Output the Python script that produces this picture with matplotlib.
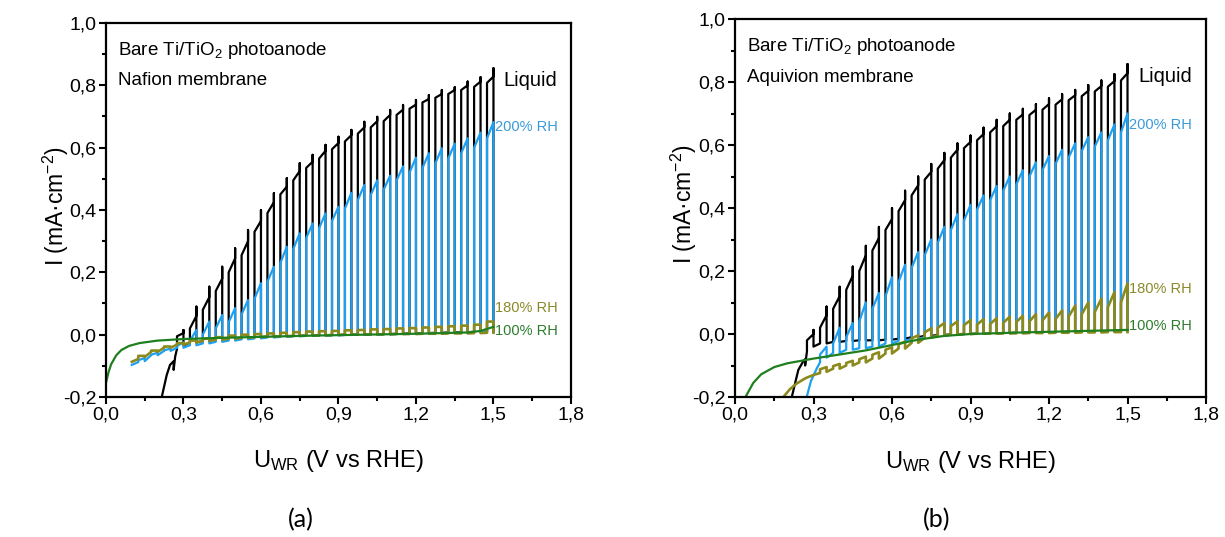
import matplotlib
matplotlib.use("Agg")
import matplotlib.pyplot as plt
from matplotlib.ticker import MultipleLocator, FuncFormatter

plt.rcParams["font.family"] = ["Liberation Sans", "DejaVu Sans"]
plt.rcParams["mathtext.fontset"] = "custom"
plt.rcParams["mathtext.rm"] = "Liberation Sans"
plt.rcParams["mathtext.it"] = "Liberation Sans:italic"

# potential at the end of each light pulse (V vs RHE)
chop_u = [0.15, 0.20, 0.25, 0.30, 0.35, 0.40, 0.45, 0.50, 0.55, 0.60,
          0.65, 0.70, 0.75, 0.80, 0.85, 0.90, 0.95, 1.00, 1.05, 1.10,
          1.15, 1.20, 1.25, 1.30, 1.35, 1.40, 1.45, 1.50]
pulse = 0.025

# ---- (a) Nafion membrane ----
liq_a_lead_u = [0.216, 0.235, 0.248, 0.262, 0.262, 0.268, 0.275]
liq_a_lead_i = [-0.200, -0.130, -0.097, -0.085, -0.113, -0.070, -0.045]
liq_a_dark = [-0.035, -0.025, -0.020, -0.015, -0.012, -0.010, -0.008, -0.006, -0.005,
              -0.004, -0.003, -0.002, -0.001, 0.000, 0.000, 0.001, 0.002, 0.003,
              0.004, 0.005, 0.006, 0.007, 0.008, 0.009, 0.010]
liq_a_on = [-0.005, 0.020, 0.080, 0.140, 0.200, 0.255, 0.330, 0.390, 0.450, 0.495,
            0.535, 0.565, 0.595, 0.620, 0.645, 0.665, 0.685, 0.705, 0.725, 0.745,
            0.760, 0.772, 0.785, 0.795, 0.808]
liq_a_off = [0.005, 0.060, 0.120, 0.180, 0.245, 0.300, 0.365, 0.425, 0.475, 0.525,
             0.555, 0.590, 0.615, 0.640, 0.665, 0.685, 0.705, 0.722, 0.738, 0.756,
             0.772, 0.785, 0.800, 0.812, 0.828]
liq_a_peak = [0.015, 0.090, 0.154, 0.218, 0.277, 0.336, 0.400, 0.454, 0.502, 0.550,
              0.577, 0.609, 0.635, 0.657, 0.683, 0.699, 0.721, 0.737, 0.753, 0.769,
              0.785, 0.794, 0.812, 0.826, 0.855]

rh200_a_lead_u = [0.100, 0.125]
rh200_a_lead_i = [-0.097, -0.088]
rh200_a_dark = [-0.085, -0.066, -0.052, -0.042, -0.034, -0.028, -0.023, -0.019, -0.015,
                -0.012, -0.009, -0.007, -0.005, -0.004, -0.003, -0.002, -0.001, 0.000,
                0.000, 0.001, 0.002, 0.003, 0.004, 0.005, 0.006, 0.007, 0.008, 0.010]
rh200_a_on = [-0.082, -0.064, -0.050, -0.036, -0.020, 0.000, 0.020, 0.040, 0.065,
              0.115, 0.170, 0.230, 0.275, 0.310, 0.342, 0.365, 0.405, 0.432, 0.448,
              0.465, 0.495, 0.520, 0.535, 0.550, 0.565, 0.582, 0.600, 0.630]
rh200_a_peak = [-0.075, -0.058, -0.045, -0.025, 0.015, 0.042, 0.063, 0.085, 0.111,
                0.165, 0.218, 0.282, 0.325, 0.357, 0.389, 0.410, 0.455, 0.480, 0.495,
                0.510, 0.540, 0.568, 0.582, 0.598, 0.613, 0.630, 0.648, 0.682]

rh180_a_lead_u = [0.100, 0.125]
rh180_a_lead_i = [-0.087, -0.078]
rh180_a_dark = [-0.072, -0.055, -0.042, -0.032, -0.025, -0.020, -0.016, -0.013, -0.010,
                -0.008, -0.006, -0.005, -0.004, -0.003, -0.002, -0.001, 0.000, 0.000,
                0.001, 0.001, 0.002, 0.002, 0.003, 0.003, 0.004, 0.004, 0.005, 0.006]
rh180_a_peak = [-0.068, -0.051, -0.038, -0.027, -0.019, -0.013, -0.008, -0.003, 0.000,
                0.002, 0.004, 0.006, 0.008, 0.010, 0.011, 0.012, 0.014, 0.015, 0.017,
                0.018, 0.020, 0.021, 0.023, 0.025, 0.027, 0.029, 0.032, 0.042]

rh100_a_u = [0.00, 0.01, 0.02, 0.04, 0.06, 0.09, 0.13, 0.20, 0.30, 0.45, 0.60,
             0.80, 1.00, 1.20, 1.40, 1.45, 1.50]
rh100_a_i = [-0.155, -0.120, -0.095, -0.066, -0.049, -0.036, -0.027, -0.019, -0.014,
             -0.010, -0.007, -0.003, 0.000, 0.003, 0.007, 0.012, 0.025]

# ---- (b) Aquivion membrane ----
liq_b_lead_u = [0.217, 0.242, 0.262, 0.268, 0.268, 0.275]
liq_b_lead_i = [-0.200, -0.114, -0.085, -0.080, -0.100, -0.055]
liq_b_dark = [-0.040, -0.030, -0.025, -0.022, -0.020, -0.020, -0.018, -0.015, -0.010,
              -0.006, -0.003, -0.001, 0.000, 0.001, 0.002, 0.003, 0.004, 0.005, 0.005,
              0.006, 0.007, 0.008, 0.008, 0.009, 0.010]
liq_b_on = [-0.020, 0.020, 0.080, 0.140, 0.200, 0.265, 0.330, 0.390, 0.440, 0.490,
            0.525, 0.560, 0.590, 0.615, 0.640, 0.660, 0.680, 0.695, 0.712, 0.728,
            0.742, 0.755, 0.770, 0.785, 0.805]
liq_b_off = [0.000, 0.060, 0.120, 0.185, 0.250, 0.305, 0.365, 0.425, 0.472, 0.515,
             0.552, 0.585, 0.610, 0.635, 0.660, 0.680, 0.697, 0.712, 0.730, 0.745,
             0.758, 0.772, 0.787, 0.803, 0.828]
liq_b_peak = [0.013, 0.087, 0.150, 0.214, 0.280, 0.340, 0.400, 0.455, 0.500, 0.540,
              0.575, 0.605, 0.630, 0.655, 0.680, 0.700, 0.715, 0.730, 0.748, 0.762,
              0.775, 0.790, 0.805, 0.825, 0.857]

rh200_b_lead_u = [0.274, 0.290, 0.312, 0.325]
rh200_b_lead_i = [-0.200, -0.150, -0.110, -0.090]
rh200_b_dark = [-0.075, -0.060, -0.050, -0.045, -0.040, -0.030, -0.022, -0.015, -0.010,
                -0.006, -0.003, 0.000, 0.001, 0.002, 0.003, 0.004, 0.005, 0.005, 0.006,
                0.007, 0.008, 0.008, 0.009, 0.010]
rh200_b_on = [-0.065, -0.030, -0.010, 0.040, 0.080, 0.120, 0.165, 0.210, 0.250, 0.290,
              0.330, 0.360, 0.395, 0.425, 0.455, 0.475, 0.500, 0.520, 0.540, 0.560,
              0.580, 0.595, 0.615, 0.640]
rh200_b_peak = [-0.040, 0.020, 0.035, 0.100, 0.130, 0.180, 0.220, 0.260, 0.300, 0.340,
                0.380, 0.410, 0.440, 0.470, 0.500, 0.520, 0.545, 0.565, 0.585, 0.605,
                0.625, 0.640, 0.665, 0.700]

rh180_b_lead_u = [0.185, 0.210, 0.236, 0.270, 0.300, 0.325]
rh180_b_lead_i = [-0.200, -0.175, -0.157, -0.140, -0.130, -0.124]
rh180_b_dark = [-0.120, -0.110, -0.100, -0.090, -0.078, -0.062, -0.046, -0.028, -0.012,
                -0.005, -0.001, 0.000, 0.001, 0.001, 0.002, 0.002, 0.003, 0.003, 0.004,
                0.004, 0.005, 0.005, 0.006, 0.006]
rh180_b_on = [-0.112, -0.102, -0.092, -0.080, -0.066, -0.050, -0.033, -0.014, 0.005,
              0.020, 0.025, 0.028, 0.030, 0.032, 0.035, 0.038, 0.040, 0.043, 0.047,
              0.055, 0.062, 0.070, 0.085, 0.100]
rh180_b_peak = [-0.105, -0.095, -0.085, -0.072, -0.058, -0.042, -0.024, -0.004, 0.018,
                0.035, 0.040, 0.044, 0.047, 0.050, 0.055, 0.058, 0.063, 0.068, 0.075,
                0.090, 0.100, 0.112, 0.133, 0.161]

rh100_b_u = [0.04, 0.07, 0.10, 0.15, 0.20, 0.30, 0.40, 0.50, 0.60, 0.70, 0.80, 0.90,
             1.10, 1.30, 1.50]
rh100_b_i = [-0.200, -0.155, -0.128, -0.105, -0.093, -0.078, -0.065, -0.052, -0.035,
             -0.018, -0.006, 0.000, 0.005, 0.009, 0.013]

c_liq = "#000000"
c_200 = "#1e9ff0"
c_180 = "#8c8a1c"
c_100 = "#1f7f1f"


def chopped(lead_u, lead_i, dark, peak, on=None, off=None):
    """Build the light/dark trace of a chopped-light sweep."""
    ends = chop_u[-len(peak):]
    xs, ys = list(lead_u), list(lead_i)
    for k, ue in enumerate(ends):
        us = ue - pulse
        i_on = peak[k] if on is None else on[k]
        i_off = peak[k] if off is None else off[k]
        xs += [us, us, ue, ue, ue]
        ys += [dark[k], i_on, i_off, peak[k], dark[k]]
    return xs, ys


def style_axes(ax):
    ax.set_xlim(0, 1.8)
    ax.set_ylim(-0.2, 1.0)
    ax.xaxis.set_major_locator(MultipleLocator(0.3))
    ax.xaxis.set_minor_locator(MultipleLocator(0.15))
    ax.yaxis.set_major_locator(MultipleLocator(0.2))
    ax.yaxis.set_minor_locator(MultipleLocator(0.1))
    comma = FuncFormatter(lambda v, p: f"{v:.1f}".replace(".", ","))
    ax.xaxis.set_major_formatter(comma)
    ax.yaxis.set_major_formatter(comma)
    ax.tick_params(which="major", direction="out", length=5, width=1.5, labelsize=14, pad=2)
    ax.tick_params(which="minor", direction="out", length=3, width=1.5)
    for s in ax.spines.values():
        s.set_linewidth(1.6)
    ax.set_xlabel(r"U$_{\mathrm{WR}}$ (V vs RHE)", fontsize=17, va="center")
    ax.set_ylabel(r"I (mA·cm$^{-2}$)", fontsize=16.5, va="center")
    ax.xaxis.set_label_coords(0.5, -0.171)
    ax.yaxis.set_label_coords(-0.108, 0.51)


fig = plt.figure(figsize=(12.25, 5.37), dpi=100)
ax_a = fig.add_axes([0.0865, 0.2607, 0.3796, 0.6965])
ax_b = fig.add_axes([0.6000, 0.2607, 0.3845, 0.7039])

lw = 1.6
ax_a.plot(*chopped(liq_a_lead_u, liq_a_lead_i, liq_a_dark, liq_a_peak, liq_a_on, liq_a_off),
          color=c_liq, lw=lw)
ax_a.plot(*chopped(rh200_a_lead_u, rh200_a_lead_i, rh200_a_dark, rh200_a_peak, rh200_a_on),
          color=c_200, lw=lw)
ax_a.plot(*chopped(rh180_a_lead_u, rh180_a_lead_i, rh180_a_dark, rh180_a_peak),
          color=c_180, lw=lw + 0.3)
ax_a.plot(rh100_a_u, rh100_a_i, color=c_100, lw=lw)

ax_b.plot(*chopped(liq_b_lead_u, liq_b_lead_i, liq_b_dark, liq_b_peak, liq_b_on, liq_b_off),
          color=c_liq, lw=lw)
ax_b.plot(*chopped(rh200_b_lead_u, rh200_b_lead_i, rh200_b_dark, rh200_b_peak, rh200_b_on),
          color=c_200, lw=lw)
ax_b.plot(*chopped(rh180_b_lead_u, rh180_b_lead_i, rh180_b_dark, rh180_b_peak, rh180_b_on),
          color=c_180, lw=lw + 0.3)
ax_b.plot(rh100_b_u, rh100_b_i, color=c_100, lw=lw)

for ax, membrane, y_lab in [(ax_a, "Nafion membrane", (0.817, 0.666, 0.086, 0.012)),
                            (ax_b, "Aquivion membrane", (0.816, 0.663, 0.143, 0.025))]:
    style_axes(ax)
    ax.text(0.045, 0.912, r"Bare Ti/TiO$_2$ photoanode", fontsize=13.5, va="center")
    ax.text(0.045, 0.815, membrane, fontsize=13.5, va="center")
    ax.text(1.54, y_lab[0], "Liquid", fontsize=14.5, va="center", color=c_liq)
    ax.text(1.507, y_lab[1], "200% RH", fontsize=10.5, va="center", color="#3a9ad9")
    ax.text(1.507, y_lab[2], "180% RH", fontsize=10.5, va="center", color="#8a8a2a")
    ax.text(1.507, y_lab[3], "100% RH", fontsize=10.5, va="center", color="#2e7d2e")

fig.text(301 / 1225, 1 - 520 / 537, "(a)", fontsize=18, family="Lato", ha="center", va="center")
fig.text(937 / 1225, 1 - 520 / 537, "(b)", fontsize=18, family="Lato", ha="center", va="center")

fig.savefig("out.png", dpi=100)
